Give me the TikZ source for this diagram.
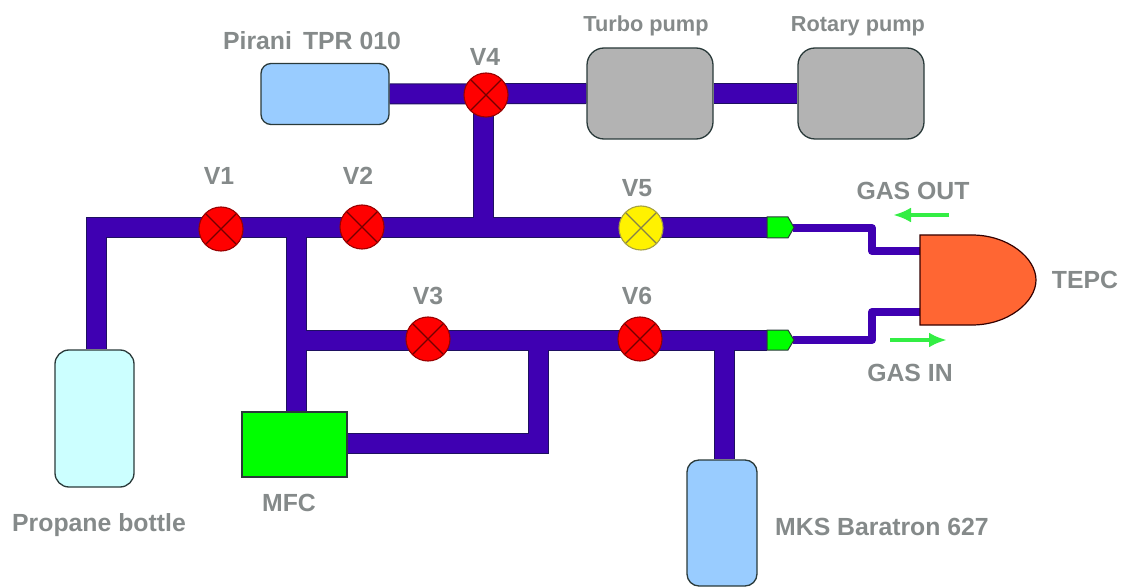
\documentclass[tikz,border=0pt]{standalone}
\usepackage{fontspec}
\setmainfont{Liberation Sans}
\usetikzlibrary{arrows.meta,backgrounds}
\definecolor{pipec}{HTML}{3F00B2}
\definecolor{pipeb}{HTML}{1E1060}
\definecolor{txtc}{HTML}{858A8A}
\definecolor{edgec}{HTML}{2A3A3A}
\definecolor{arrowc}{HTML}{33EE44}
\def\px{0.75pt}
\tikzset{
  x=0.75pt,y=-0.75pt,
  device/.style={draw=edgec,line width=1.3*\px,inner sep=0pt,rounded corners=#1*\px},
  valve/.style={circle,draw=#1!60!black,fill=#1,line width=1.1*\px,minimum size=44*\px,inner sep=0pt,
    path picture={\draw[line width=1.1*\px,#1!45!black]
      (path picture bounding box.south west)++(6.4*\px,6.4*\px) -- ++(31.2*\px,31.2*\px)
      (path picture bounding box.north west)++(6.4*\px,-6.4*\px) -- ++(31.2*\px,-31.2*\px);}},
  lab/.style={text=txtc,font=\fontsize{18.6}{20}\selectfont\bfseries,inner sep=0pt},
  lab small/.style={lab,font=\fontsize{16.3}{18}\selectfont\bfseries},
  thin pipe/.style={draw=pipec,line width=8*\px,line join=round},
  flow/.style={draw=arrowc,line width=4*\px,-{Latex[length=18*\px,width=15*\px]}},
  tip/.style={fill=green,draw=edgec,line width=1*\px}
}
\newcommand{\pipenet}[1]{%
  \draw[#1] (jl |- propane.north) -- (jl) -- (cu);
  \draw[#1] (ju) -- (mfc.north -| ju);
  \draw[#1] (jv) -- (cl);
  \draw[#1] (jb) -- (jc) -- (mfcout);
  \draw[#1] (jm) -- (baratron.north -| jm);
  \draw[#1] (pirani.east) -- (turbo.west);
  \draw[#1] (jt) -- (jk);
  \draw[#1] (turbo.east) -- (rotary.west);
}
\begin{document}
\begin{tikzpicture}
\useasboundingbox (0,0) rectangle (1122,588);
% devices
\node[device=10,fill={rgb,255:red,153;green,204;blue,255},minimum width=128*\px,minimum height=61*\px] (pirani) at (325,94) {};
\node[device=17,fill={rgb,255:red,179;green,179;blue,179},minimum width=126*\px,minimum height=91*\px] (turbo) at (650,93.5) {};
\node[device=17,fill={rgb,255:red,179;green,179;blue,179},minimum width=126*\px,minimum height=91*\px] (rotary) at (861,93.5) {};
\node[device=14,fill={rgb,255:red,204;green,255;blue,255},minimum width=79*\px,minimum height=137*\px] (propane) at (94.5,418.5) {};
\node[device=0,fill=green,minimum width=105*\px,minimum height=65*\px] (mfc) at (294.5,444.5) {};
\node[device=12,fill={rgb,255:red,153;green,204;blue,255},minimum width=70*\px,minimum height=126*\px] (baratron) at (722,523) {};
% junctions
\coordinate (jl) at (96,227.5);
\coordinate (cu) at (767,227.5);
\coordinate (ju) at (296,227.5);
\coordinate (jv) at (296,340);
\coordinate (cl) at (767,340);
\coordinate (jb) at (538,340);
\coordinate (jc) at (538,443);
\coordinate (mfcout) at (347,443);
\coordinate (jm) at (724,340);
\coordinate (jt) at (483,93.5);
\coordinate (jk) at (483,227.5);
% pipes: outline then fill, behind the devices
\begin{scope}[on background layer]
\pipenet{draw=pipeb,line width=21*\px}
\pipenet{draw=pipec,line width=19*\px}
\end{scope}
% valves
\node[valve=red] (v1) at (221,229) {};
\node[valve=red] (v2) at (362,227) {};
\node[valve=red] (v3) at (428,339) {};
\node[valve=red] (v4) at (486,95) {};
\node[valve=yellow] (v5) at (641,228) {};
\node[valve=red] (v6) at (640,339) {};
% TEPC
\coordinate (tu) at (920,251);
\coordinate (tl) at (920,312);
\coordinate (ku) at (872,251);
\coordinate (kl) at (872,312);
\coordinate (su) at (793,228);
\coordinate (sl) at (793,340);
\draw[thin pipe] (su) -- (su -| ku) -- (ku) -- (tu);
\draw[thin pipe] (sl) -- (sl -| kl) -- (kl) -- (tl);
\draw[fill={rgb,255:red,255;green,102;blue,51},draw=black!80!red,line width=1.2*\px]
  (920,235) -- (972,235) .. controls (1008,235) and (1036,258) .. (1036,280)
  .. controls (1036,302) and (1008,325) .. (972,325) -- (920,325) -- cycle;
% green tips
\draw[tip] (767,217) -- (788,217) -- (794,227.5) -- (788,238) -- (767,238) -- cycle;
\draw[tip] (767,330) -- (788,330) -- (794,340) -- (788,350) -- (767,350) -- cycle;
% flow arrows
\coordinate (ao1) at (949,215); \coordinate (ao2) at (893,215);
\coordinate (ai1) at (890,340); \coordinate (ai2) at (947,340);
\draw[flow] (ao1) -- (ao2);
\draw[flow] (ai1) -- (ai2);
% labels
\node[lab] (lpir) at (312,41) {Pirani\, TPR 010};
\node[lab] (lv4) at (485,57) {V4};
\node[lab small] (ltur) at (646,26) {Turbo pump};
\node[lab small] (lrot) at (858,26) {Rotary pump};
\node[lab] (lv1) at (219,176) {V1};
\node[lab] (lv2) at (358,176) {V2};
\node[lab] (lv5) at (637,188) {V5};
\node[lab] (lout) at (913,191) {GAS OUT};
\node[lab] (lv3) at (428,296) {V3};
\node[lab] (lv6) at (637,296) {V6};
\node[lab] (ltepc) at (1085,280) {TEPC};
\node[lab] (lin) at (910,373) {GAS IN};
\node[lab] (lmfc) at (289,503) {MFC};
\node[lab] (lprop) at (99,525) {Propane bottle};
\node[lab] (lmks) at (882,527) {MKS Baratron 627};
\end{tikzpicture}
\end{document}
